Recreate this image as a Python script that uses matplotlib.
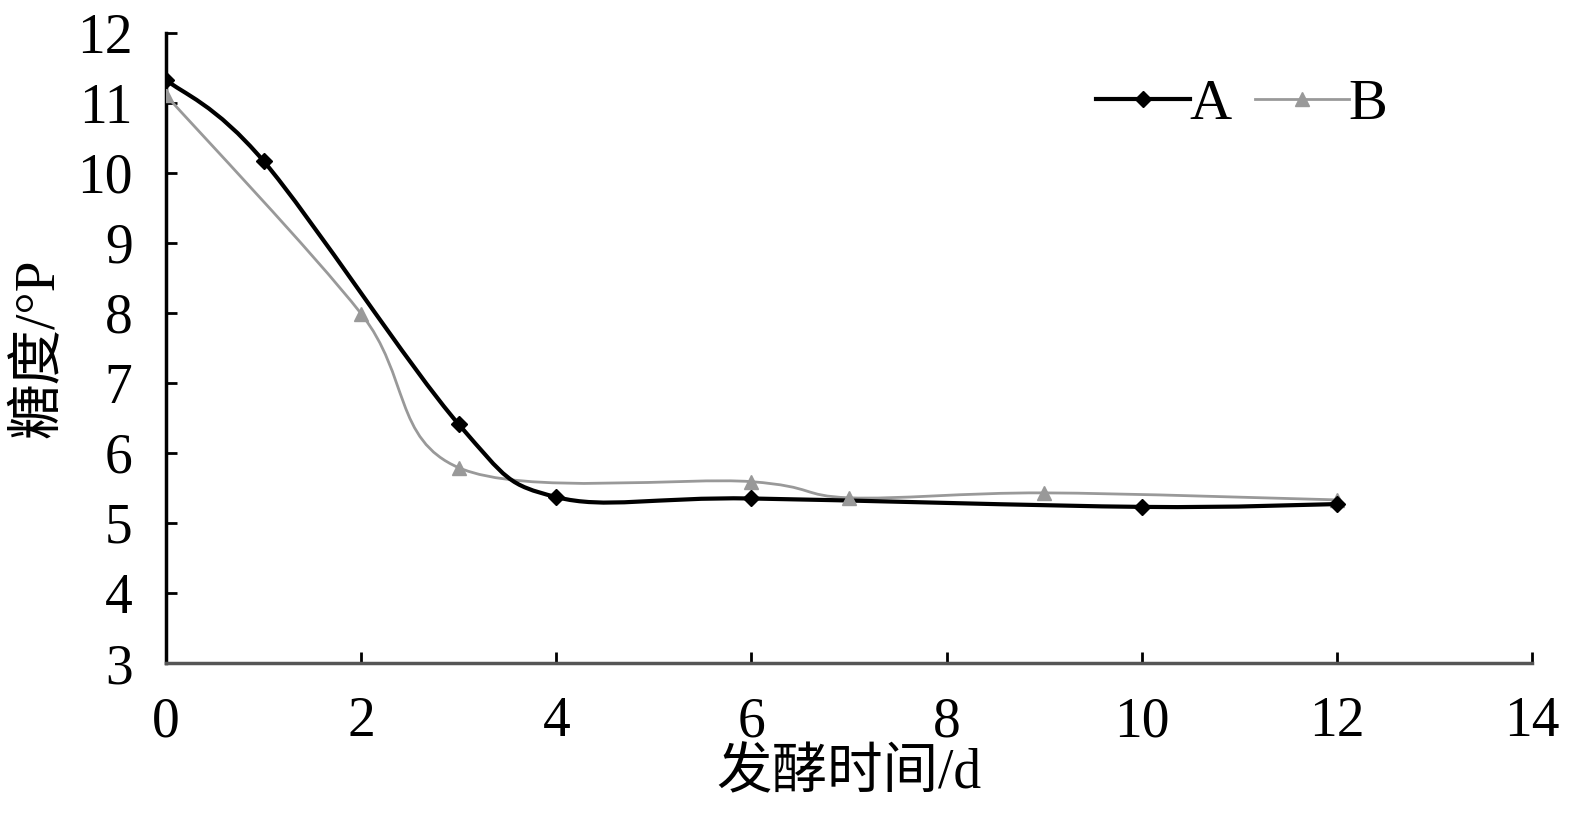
import matplotlib
matplotlib.use("Agg")
import matplotlib.pyplot as plt
from matplotlib.path import Path
from matplotlib.patches import PathPatch
from matplotlib.lines import Line2D

plt.rcParams['font.family'] = ['Liberation Serif', 'Noto Sans CJK SC']

days_A = [0, 1, 3, 4, 6, 10, 12]
sugar_A = [11.33, 10.17, 6.41, 5.37, 5.35, 5.23, 5.27]
days_B = [0, 2, 3, 6, 7, 9, 12]
sugar_B = [11.11, 7.99, 5.79, 5.59, 5.36, 5.43, 5.33]
x_ticks = [0, 2, 4, 6, 8, 10, 12, 14]
y_ticks = [3, 4, 5, 6, 7, 8, 9, 10, 11, 12]


def smooth_path(xs, ys):
    pts = list(zip(xs, ys))
    n = len(pts)
    verts = [pts[0]]
    codes = [Path.MOVETO]
    for i in range(n - 1):
        p0 = pts[i - 1] if i > 0 else pts[i]
        p1 = pts[i]
        p2 = pts[i + 1]
        p3 = pts[i + 2] if i + 2 < n else pts[i + 1]
        c1 = (p1[0] + (p2[0] - p0[0]) / 6, p1[1] + (p2[1] - p0[1]) / 6)
        c2 = (p2[0] - (p3[0] - p1[0]) / 6, p2[1] - (p3[1] - p1[1]) / 6)
        verts += [c1, c2, p2]
        codes += [Path.CURVE4] * 3
    return Path(verts, codes)


fig = plt.figure(figsize=(15.73, 8.23), dpi=100)
ax = fig.add_axes([0.1055, 0.1944, 0.8685, 0.7656])

colA = 'black'
colB = '#999999'
ax.add_patch(PathPatch(smooth_path(days_B, sugar_B), facecolor='none', edgecolor=colB, lw=2.0, zorder=2))
ax.add_patch(PathPatch(smooth_path(days_A, sugar_A), facecolor='none', edgecolor=colA, lw=3.0, zorder=3))
ax.plot(days_B, sugar_B, linestyle='none', marker='^', ms=10, color=colB, zorder=4)
ax.plot(days_A, sugar_A, linestyle='none', marker='D', ms=8, color=colA, zorder=5)

ax.set_xlim(0, 14)
ax.set_ylim(3, 12)
ax.set_xticks(x_ticks)
ax.set_yticks(y_ticks)
ax.tick_params(direction='in', length=8, width=2, labelsize=40)
ax.tick_params(axis='x', pad=24)
ax.tick_params(axis='y', pad=24)
for s in ['top', 'right']:
    ax.spines[s].set_visible(False)
ax.spines['left'].set_linewidth(2.5)
ax.spines['bottom'].set_linewidth(2.5)
ax.spines['bottom'].set_color('#555555')

ax.set_xlabel('发酵时间/d', fontsize=40, labelpad=0)
ax.set_ylabel('糖度/°P', fontsize=40, labelpad=8)

handles = [Line2D([], [], color=colA, lw=3.0, marker='D', ms=8),
           Line2D([], [], color=colB, lw=2.0, marker='^', ms=10)]
ax.legend(handles, ['A', 'B'], loc='upper left', bbox_to_anchor=(0.664, 0.965), ncol=2,
          frameon=False, fontsize=42, handlelength=1.6, handletextpad=0.0,
          columnspacing=0.4, borderaxespad=0)

fig.savefig('out.png', dpi=100)
